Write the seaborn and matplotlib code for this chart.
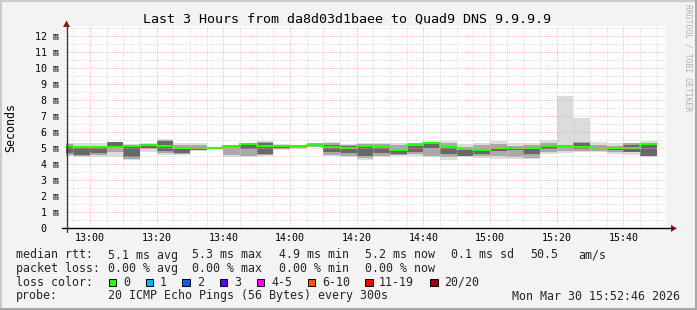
import matplotlib
matplotlib.use("Agg")
import matplotlib.pyplot as plt
import matplotlib.ticker as mticker
from matplotlib.patches import Rectangle, Polygon
from matplotlib.lines import Line2D
import numpy as np
import pandas as pd
import seaborn as sns

# ---------------- data (ms) ----------------
# step start times in minutes after midnight: 12:50 ... 15:45 (5-minute steps)
step_start = [770 + 5 * i for i in range(36)]
median = [5.12, 5.05, 5.05, 5.07, 5.17, 5.23, 5.12, 5.00, 5.00, 5.02, 5.15, 5.25,
          5.12, 5.12, 5.12, 5.20, 5.10, 5.00, 5.15, 5.08, 4.92, 5.23, 5.30, 5.05,
          4.93, 4.92, 5.03, 5.03, 5.03, 5.12, 5.13, 5.06, 5.02, 5.02, 5.03, 5.24]
outer_lo = [4.50, 4.48, 4.48, 4.48, 4.27, 4.80, 4.60, 4.60, 4.85, 4.90, 4.48, 4.45,
            4.50, 4.90, 4.95, 5.05, 4.50, 4.45, 4.30, 4.45, 4.50, 4.50, 4.45, 4.30,
            4.45, 4.38, 4.32, 4.32, 4.32, 4.65, 4.73, 4.75, 4.75, 4.65, 4.60, 4.44]
outer_hi = [5.32, 5.32, 5.32, 5.42, 5.25, 5.32, 5.55, 5.30, 5.35, 5.10, 5.20, 5.35,
            5.45, 5.25, 5.20, 5.35, 5.40, 5.25, 5.35, 5.30, 5.32, 5.36, 5.36, 5.45,
            5.25, 5.36, 5.46, 5.30, 5.36, 5.53, 8.27, 6.92, 5.42, 5.30, 5.36, 5.46]
mid_lo = [4.60, 4.55, 4.60, 4.75, 4.35, 4.95, 4.70, 4.65, 4.88, 4.95, 4.60, 4.55,
          4.60, 4.95, 5.00, 5.10, 4.60, 4.55, 4.40, 4.55, 4.60, 4.65, 4.50, 4.45,
          4.50, 4.55, 4.50, 4.45, 4.40, 4.80, 4.85, 4.85, 4.85, 4.75, 4.75, 4.50]
mid_hi = [5.25, 5.12, 5.15, 5.40, 5.20, 5.28, 5.50, 5.20, 5.20, 5.08, 5.18, 5.30,
          5.40, 5.20, 5.18, 5.30, 5.35, 5.20, 5.28, 5.25, 5.20, 5.30, 5.33, 5.30,
          5.05, 5.20, 5.25, 5.15, 5.20, 5.36, 5.20, 5.40, 5.20, 5.15, 5.30, 5.36]
dark_lo = [4.70, 4.60, 4.70, 5.10, 4.45, 5.00, 4.85, 4.70, 4.90, 4.98, 5.05, 4.95,
           4.65, 5.00, 5.05, 5.12, 4.80, 4.70, 4.50, 4.70, 4.65, 4.80, 5.00, 4.65,
           4.50, 4.65, 4.85, 4.90, 4.65, 4.95, 5.05, 4.95, 4.95, 4.90, 4.80, 4.55]
dark_hi = [5.20, 5.00, 5.00, 5.40, 5.10, 5.25, 5.45, 5.05, 5.10, 5.05, 5.18, 5.33,
           5.35, 5.15, 5.15, 5.25, 5.20, 5.12, 5.20, 5.00, 4.90, 5.25, 5.28, 5.05,
           4.90, 4.90, 5.00, 5.05, 5.00, 5.20, 5.15, 5.30, 5.10, 5.08, 5.20, 5.25]

title = "Last 3 Hours from da8d03d1baee to Quad9 DNS 9.9.9.9"
loss_labels = ["0", "1", "2", "3", "4-5", "6-10", "11-19", "20/20"]
loss_colors = ["#26ff00", "#00b8ff", "#0059ff", "#5e00ff", "#ff00ff", "#ff5500", "#ff0000", "#a10000"]

# ---------------- figure ----------------
W, H = 697, 310
sns.set_theme(style="white")
plt.rcParams["font.family"] = ["DejaVu Sans Mono", "DejaVu Sans"]
fig = plt.figure(figsize=(W / 100, H / 100), dpi=100, facecolor="#f3f3f3")

def fx(px):
    return px / W

def fy(py):
    return 1 - py / H

x0_px, x1_px = 66, 666
y0_px = 228.4
ppm = 16.02
ytop = 12.63
ax = fig.add_axes([fx(x0_px), fy(y0_px), (x1_px - x0_px) / W, ytop * ppm / H])
ax.set_facecolor("white")

t_end = 15 * 60 + 52 + 46 / 60
ax.set_xlim(t_end - 180, t_end)
ax.set_ylim(0, ytop)

edges = step_start + [step_start[-1] + 5]

def ext(a):
    return list(a) + [a[-1]]

ax.fill_between(edges, ext(outer_lo), ext(outer_hi), step="post", color="#dcdcdc", lw=0, zorder=1)
ax.fill_between(edges, ext(mid_lo), ext(mid_hi), step="post", color="#a9a9a9", lw=0, zorder=1.1)
ax.fill_between(edges, ext(dark_lo), ext(dark_hi), step="post", color="#686868", lw=0, zorder=1.2)

df = pd.DataFrame({"t": edges, "median": ext(median)})
sns.lineplot(data=df, x="t", y="median", ax=ax, drawstyle="steps-post",
             color="#26ff00", linewidth=1.5, estimator=None, zorder=2)

# grid
ax.xaxis.set_major_locator(mticker.MultipleLocator(20))
ax.xaxis.set_minor_locator(mticker.MultipleLocator(5))
ax.yaxis.set_major_locator(mticker.MultipleLocator(1))
ax.yaxis.set_minor_locator(mticker.MultipleLocator(0.5))
ax.set_axisbelow(False)
dots = (0, (0.72, 1.44))
ax.grid(which="minor", color="#cdcdcd", linestyle=dots, linewidth=0.72, zorder=3)
ax.grid(which="major", color="#f4a4a4", linestyle=dots, linewidth=0.72, zorder=3.1)

ax.xaxis.set_major_formatter(mticker.FuncFormatter(lambda v, p: f"{int(v // 60):02d}:{int(round(v % 60)):02d}"))
ax.yaxis.set_major_formatter(mticker.FuncFormatter(lambda v, p: "0  " if abs(v) < 1e-9 else f"{int(round(v))} m"))
ax.tick_params(axis="x", which="both", length=0, pad=3.2, labelsize=7.2, colors="#000000")
ax.tick_params(axis="y", which="major", length=2.2, width=0.8, pad=2.6, labelsize=7.2,
               direction="out", color="#333333", labelcolor="#000000")
ax.tick_params(axis="y", which="minor", length=0)
ax.set_xlabel("")
ax.set_ylabel("")
for s in ax.spines.values():
    s.set_visible(False)

# axes lines with arrows (decoration, pixel coords)
axis_col = "#000000"
arrow_col = "#9a1515"
fig.add_artist(Line2D([fx(62), fx(672)], [fy(y0_px), fy(y0_px)], color=axis_col, lw=1.0))
fig.add_artist(Line2D([fx(x0_px + 0.5), fx(x0_px + 0.5)], [fy(232), fy(25)], color="#333333", lw=1.0))
fig.add_artist(Polygon([[fx(671), fy(y0_px - 3.5)], [fx(671), fy(y0_px + 3.5)], [fx(677), fy(y0_px)]],
                       closed=True, color=arrow_col, lw=0))
fig.add_artist(Polygon([[fx(x0_px + 0.5 - 3.5), fy(27)], [fx(x0_px + 0.5 + 3.5), fy(27)], [fx(x0_px + 0.5), fy(20.5)]],
                       closed=True, color=arrow_col, lw=0))

# frame
fig.add_artist(Line2D([0, 1], [fy(0.8), fy(0.8)], color="#cbcbcb", lw=1.5))
fig.add_artist(Line2D([fx(0.8), fx(0.8)], [0, 1], color="#cbcbcb", lw=1.5))
fig.add_artist(Line2D([0, 1], [fy(H - 0.8), fy(H - 0.8)], color="#a8a8a8", lw=1.5))
fig.add_artist(Line2D([fx(W - 0.8), fx(W - 0.8)], [0, 1], color="#a8a8a8", lw=1.5))

# title and labels
fig.text(fx(347), fy(19), title, ha="center", va="center", fontsize=9.6, color="#000000")
fig.text(fx(11), fy(128), "Seconds", ha="center", va="center", rotation=90, fontsize=8.4, color="#000000")
fig.text(fx(688), fy(4), "RRDTOOL / TOBI OETIKER", ha="center", va="top", rotation=270,
         fontsize=5.8, color="#b0b0b0")

# legend
LF = 8.4
rows = [255, 268.5, 282, 296]
fig.text(fx(16), fy(rows[0]), "median rtt:", va="center", fontsize=LF)
for xp, s in [(107.6, "5.1 ms avg"), (192.4, "5.3 ms max"), (279.1, "4.9 ms min"),
              (365.3, "5.2 ms now"), (451.1, "0.1 ms sd"), (530.2, "50.5"), (578.7, "am/s")]:
    fig.text(fx(xp), fy(rows[0]), s, va="center", fontsize=LF)
fig.text(fx(16), fy(rows[1]), "packet loss:", va="center", fontsize=LF)
for xp, s in [(107.6, "0.00 % avg"), (192.4, "0.00 % max"), (279.1, "0.00 % min"), (365.3, "0.00 % now")]:
    fig.text(fx(xp), fy(rows[1]), s, va="center", fontsize=LF)
fig.text(fx(16), fy(rows[2]), "loss color:", va="center", fontsize=LF)
box_x = [108.9, 145.6, 182.4, 220.0, 256.9, 307.6, 365.3, 430.2]
lab_x = [123.6, 160.0, 196.9, 234.2, 271.1, 321.8, 379.1, 444.4]
for bx, lx, lab, col in zip(box_x, lab_x, loss_labels, loss_colors):
    fig.add_artist(Rectangle((fx(bx), fy(rows[2] + 4)), 7.5 / W, 7.5 / H, facecolor=col,
                             edgecolor="#000000", lw=0.7))
    fig.text(fx(lx), fy(rows[2]), lab, va="center", fontsize=LF)
fig.text(fx(16), fy(rows[3]), "probe:", va="center", fontsize=LF)
fig.text(fx(107.6), fy(rows[3]), "20 ICMP Echo Pings (56 Bytes) every 300s", va="center", fontsize=LF)
fig.text(fx(680), fy(rows[3]), "Mon Mar 30 15:52:46 2026", ha="right", va="center", fontsize=LF)

fig.savefig("out.png", dpi=100, facecolor=fig.get_facecolor())
